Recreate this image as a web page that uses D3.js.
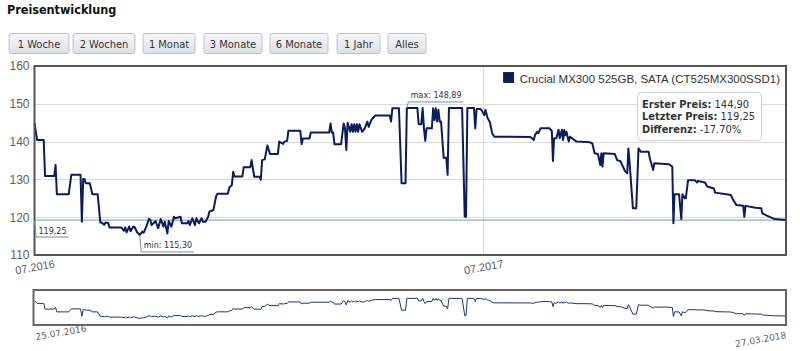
<!DOCTYPE html>
<meta charset="utf-8">
<script src="https://cdn.jsdelivr.net/npm/d3@7"></script>
<style>
body { margin: 0; background: #fff; }
svg { font-family: "DejaVu Sans", Verdana, sans-serif; }
.btn text { font-family: "DejaVu Sans Condensed", "DejaVu Sans", sans-serif; font-size: 11px; fill: #333; }
.title { font-family: "DejaVu Sans Condensed", "DejaVu Sans", sans-serif; font-weight: bold; font-size: 12.5px; fill: #111; }
.yaxis text { font-size: 12px; fill: #606060; }
.xaxis text { font-size: 11px; fill: #606060; }
.navaxis text { font-size: 9px; fill: #606060; }
.callout { font-size: 8px; fill: #333; }
.legend { font-family: "Liberation Sans", Arial, sans-serif; font-size: 11.5px; fill: #333; }
.info { font-family: "DejaVu Sans Condensed", "DejaVu Sans", sans-serif; font-size: 11px; fill: #333; }
</style>
<div id="chart"></div>
<script>
// price history, one entry per price change
const dates = [
  "2016-07-25","2016-07-27","2016-08-01","2016-08-02","2016-08-09","2016-08-10","2016-08-11","2016-08-20",
  "2016-08-22","2016-08-29","2016-08-30","2016-08-31","2016-09-01","2016-09-02","2016-09-05","2016-09-07",
  "2016-09-11","2016-09-13","2016-09-14","2016-09-16","2016-09-17","2016-09-19","2016-09-20","2016-09-29",
  "2016-10-01","2016-10-02","2016-10-03","2016-10-05","2016-10-06","2016-10-08","2016-10-09","2016-10-11",
  "2016-10-13","2016-10-15","2016-10-16","2016-10-18","2016-10-20","2016-10-21","2016-10-22","2016-10-25",
  "2016-10-27","2016-10-29","2016-10-31","2016-11-01","2016-11-03","2016-11-04","2016-11-06","2016-11-08",
  "2016-11-09","2016-11-13","2016-11-14","2016-11-18","2016-11-19","2016-11-20","2016-11-22","2016-11-24",
  "2016-11-25","2016-11-27","2016-11-29","2016-11-30","2016-12-02","2016-12-04","2016-12-05","2016-12-08",
  "2016-12-10","2016-12-11","2016-12-19","2016-12-20","2016-12-22","2016-12-23","2016-12-24","2016-12-30",
  "2016-12-31","2017-01-05","2017-01-06","2017-01-08","2017-01-12","2017-01-13","2017-01-14","2017-01-16",
  "2017-01-18","2017-01-20","2017-01-26","2017-01-27","2017-01-30","2017-01-31","2017-02-02","2017-02-03",
  "2017-02-12","2017-02-13","2017-02-14","2017-02-19","2017-02-20","2017-03-06","2017-03-07","2017-03-08",
  "2017-03-09","2017-03-10","2017-03-15","2017-03-17","2017-03-18","2017-03-19","2017-03-20","2017-03-22",
  "2017-03-23","2017-03-24","2017-03-25","2017-03-26","2017-03-27","2017-03-28","2017-03-29","2017-03-31",
  "2017-04-01","2017-04-02","2017-04-04","2017-04-05","2017-04-07","2017-04-10","2017-04-21","2017-04-22",
  "2017-04-23","2017-04-28","2017-04-30","2017-05-03","2017-05-04","2017-05-12","2017-05-13","2017-05-15",
  "2017-05-16","2017-05-17","2017-05-18","2017-05-19","2017-05-23","2017-05-24","2017-05-25","2017-05-26",
  "2017-05-27","2017-05-28","2017-05-29","2017-05-30","2017-06-01","2017-06-03","2017-06-04","2017-06-05",
  "2017-06-15","2017-06-17","2017-06-18","2017-06-19","2017-06-24","2017-06-25","2017-06-26","2017-06-29",
  "2017-06-30","2017-07-02","2017-07-03","2017-07-05","2017-07-07","2017-07-09","2017-07-11","2017-08-12",
  "2017-08-15","2017-08-16","2017-08-18","2017-08-19","2017-08-21","2017-08-29","2017-08-31","2017-09-01",
  "2017-09-02","2017-09-04","2017-09-06","2017-09-07","2017-09-09","2017-09-10","2017-09-11","2017-09-12",
  "2017-09-13","2017-09-15","2017-09-16","2017-09-22","2017-10-04","2017-10-06","2017-10-08","2017-10-11",
  "2017-10-13","2017-10-14","2017-10-15","2017-10-16","2017-10-26","2017-10-28","2017-10-31","2017-11-04",
  "2017-11-06","2017-11-07","2017-11-08","2017-11-11","2017-11-14","2017-11-16","2017-11-18","2017-11-25",
  "2017-11-26","2017-11-29","2017-11-30","2017-12-13","2017-12-16","2017-12-17","2017-12-18","2017-12-22",
  "2017-12-24","2017-12-25","2017-12-27","2017-12-28","2017-12-30","2018-01-05","2018-01-07","2018-01-08",
  "2018-01-14","2018-01-16","2018-01-22","2018-01-23","2018-02-02","2018-02-06","2018-02-08","2018-02-11",
  "2018-02-17","2018-02-18","2018-02-19","2018-02-28","2018-03-05","2018-03-06","2018-03-10","2018-03-13",
  "2018-03-17","2018-03-27"
];
const prices = [
  144.90,140.4,140.4,130.9,130.9,133.8,126.1,126.1,
  131.2,131.2,118.8,130.1,130.1,129.0,129.0,126.1,
  126.1,118.6,118.6,118.0,118.6,118.5,117.3,117.3,
  116.4,117.3,116.0,117.5,116.3,117.5,117.4,116.0,
  115.30,116.2,115.9,117.5,119.6,119.3,117.9,119.0,
  117.1,119.5,117.5,118.8,115.7,119.0,117.5,120.1,
  119.7,120.1,118.4,118.4,119.0,117.9,119.7,117.9,
  119.7,118.4,119.7,118.8,118.8,120.1,121.5,121.9,
  125.5,126.2,126.2,127.8,128.5,132.0,130.8,130.8,
  133.2,133.2,135.1,130.7,130.7,129.9,135.1,135.3,
  139.0,136.7,136.7,140.0,139.4,140.0,140.2,142.9,
  142.9,139.3,140.8,140.8,142.4,142.4,144.8,142.4,
  142.4,139.3,139.3,144.8,143.5,137.8,145.0,142.6,
  144.6,142.6,144.6,142.6,144.6,142.6,144.6,142.6,
  143.0,143.5,145.3,143.9,145.7,146.9,146.9,145.3,
  148.8,148.8,129.0,129.0,148.89,148.89,144.6,144.6,
  148.89,143.5,140.2,143.5,143.5,148.8,145.7,148.8,
  145.3,148.4,145.3,145.3,135.7,135.7,131.2,148.89,
  148.89,120.1,120.1,148.89,148.89,143.5,148.6,148.6,
  148.2,147.0,148.4,146.2,145.1,142.2,141.3,141.2,
  140.4,141.7,142.6,142.2,143.5,143.5,142.8,134.9,
  140.9,140.9,143.1,140.9,143.1,140.4,143.1,141.7,
  142.6,140.0,141.3,140.0,139.8,139.5,136.9,136.7,
  133.8,136.9,133.4,136.9,136.7,135.1,134.8,132.2,
  131.6,138.2,134.7,122.4,122.4,138.2,137.3,137.3,
  135.6,132.5,134.3,134.0,133.4,118.4,126.1,126.1,
  119.5,126.1,125.0,125.0,129.8,129.8,129.2,129.6,
  129.2,128.1,127.6,126.5,126.1,125.9,124.6,123.2,
  123.0,120.1,123.0,122.5,122.4,121.0,120.4,120.0,
  119.5,119.25
];
const yTicks = [110, 120, 130, 140, 150, 160];
const xTickDates = ["2016-07-25", "2017-07-01"];
const rangeButtons = ["1 Woche", "2 Wochen", "1 Monat", "3 Monate", "6 Monate", "1 Jahr", "Alles"];
const seriesName = "Crucial MX300 525GB, SATA (CT525MX300SSD1)";

const parse = d3.timeParse("%Y-%m-%d");
const data = dates.map((d, i) => ({ date: parse(d), price: prices[i] }));
const first = data[0], last = data[data.length - 1];
const de = d3.formatLocale({ decimal: ",", thousands: ".", grouping: [3], currency: ["", " €"] }).format(".2f");

const W = 800, H = 351;
const svg = d3.select("#chart").append("svg").attr("width", W).attr("height", H);

// gradient for the buttons
const grad = svg.append("defs").append("linearGradient").attr("id", "btngrad")
  .attr("x1", 0).attr("y1", 0).attr("x2", 0).attr("y2", 1);
grad.append("stop").attr("offset", "0%").attr("stop-color", "#f6f7f9");
grad.append("stop").attr("offset", "100%").attr("stop-color", "#dde1e6");

svg.append("text").attr("class", "title").attr("x", 7).attr("y", 14).text("Preisentwicklung");

// range selector buttons (left edge and width of each)
const btnBox = [[9, 60], [73, 62], [143, 52], [204, 58], [270, 58], [337, 43], [388, 38]];
const btn = svg.selectAll(".btn").data(rangeButtons).join("g").attr("class", "btn")
  .attr("transform", (d, i) => `translate(${btnBox[i][0]},33.5)`);
btn.append("rect").attr("width", (d, i) => btnBox[i][1]).attr("height", 20).attr("rx", 2)
  .attr("fill", "url(#btngrad)").attr("stroke", "#bfc4cc");
btn.append("text").attr("x", (d, i) => btnBox[i][1] / 2).attr("y", 14.5)
  .attr("text-anchor", "middle").text(d => d);

// main plot
const m = { left: 34.5, right: 786, top: 66, bottom: 255 };
// ordinal-like axis: the second year occupies the right 40% of the width
const x = d3.scaleTime()
  .domain([first.date, parse(xTickDates[1]), last.date])
  .range([m.left, m.left + (m.right - m.left) * 0.597, m.right]);
const y = d3.scaleLinear().domain([110, 160]).range([m.bottom, m.top]);

svg.append("g").selectAll("line").data(yTicks).join("line")
  .attr("x1", m.left).attr("x2", m.right)
  .attr("y1", d => Math.round(y(d)) + 0.5).attr("y2", d => Math.round(y(d)) + 0.5)
  .attr("stroke", "#dadada");
svg.append("line")
  .attr("x1", Math.round(x(parse(xTickDates[1]))) + 0.5).attr("x2", Math.round(x(parse(xTickDates[1]))) + 0.5)
  .attr("y1", m.top).attr("y2", m.bottom).attr("stroke", "#dadada");

// last price plot line
svg.append("line").attr("x1", m.left).attr("x2", m.right)
  .attr("y1", y(last.price)).attr("y2", y(last.price))
  .attr("stroke", "#9aa8c2").attr("stroke-width", 1.2);

const yAxis = svg.append("g").attr("class", "yaxis").attr("transform", `translate(${m.left},0)`)
  .call(d3.axisLeft(y).tickValues(yTicks).tickSize(0).tickPadding(5));
yAxis.select(".domain").remove();

const xAxis = svg.append("g").attr("class", "xaxis").attr("transform", `translate(0,${m.bottom})`)
  .call(d3.axisBottom(x).tickValues(xTickDates.map(parse)).tickSize(0).tickFormat(d3.timeFormat("%m.%Y")));
xAxis.select(".domain").remove();
xAxis.selectAll("text").attr("y", 0).attr("dy", "0.35em")
  .attr("transform", "translate(0,12) rotate(-10)");

const line = d3.line().x(d => x(d.date)).y(d => y(d.price));
svg.append("path").datum(data).attr("d", line)
  .attr("fill", "none").attr("stroke", "#0c1b5b").attr("stroke-width", 2).attr("stroke-linejoin", "round");

svg.append("rect").attr("x", m.left).attr("y", m.top)
  .attr("width", m.right - m.left).attr("height", m.bottom - m.top)
  .attr("fill", "none").attr("stroke", "#555").attr("stroke-width", 2);

// callout labels
function callout(px, py, label, up) {
  const g = svg.append("g");
  const t = g.append("text").attr("class", "callout").text(label);
  const tw = t.node().getComputedTextLength();
  const yb = up ? py - 6 : py + 17;
  g.insert("path", "text").attr("d", `M${px},${py}L${px + 1.5},${yb}L${px + tw + 6},${yb}`)
    .attr("fill", "none").attr("stroke", "#7d8aa6").attr("stroke-width", 1);
  t.attr("x", px + 4).attr("y", yb - 3.5);
}
const iMin = d3.minIndex(data, d => d.price), iMax = d3.maxIndex(data, d => d.price);
callout(x(first.date), y(last.price), de(last.price), false);
callout(x(data[iMin].date), y(data[iMin].price), "min: " + de(data[iMin].price), false);
callout(x(data[iMax].date), y(data[iMax].price), "max: " + de(data[iMax].price), true);

// legend
const lt = svg.append("text").attr("class", "legend").attr("x", 780).attr("y", 82.5)
  .attr("text-anchor", "end").text(seriesName);
const lx = 780 - lt.node().getComputedTextLength();
svg.append("rect").attr("x", lx - 16).attr("y", 72.5).attr("width", 10).attr("height", 10)
  .attr("fill", "#0c1b5b").attr("stroke", "#000a3a").attr("stroke-width", 0.8);

// info box
const diff = (last.price - first.price) / first.price * 100;
const infoRows = [
  ["Erster Preis:", de(first.price)],
  ["Letzter Preis:", de(last.price)],
  ["Differenz:", d3.format(".2f")(diff).replace("\u2212", "-") + "%"]
];
svg.append("rect").attr("x", 637.5).attr("y", 92.5).attr("width", 124).attr("height", 48).attr("rx", 4)
  .attr("fill", "#fff").attr("stroke", "#cfcfcf");
const info = svg.selectAll(".info").data(infoRows).join("text").attr("class", "info")
  .attr("x", 642).attr("y", (d, i) => 107.5 + i * 12.9);
info.append("tspan").attr("font-weight", "bold").text(d => d[0]);
info.append("tspan").text(d => " " + d[1]);

// navigator
const nav = { top: 290, bottom: 325 };
const yNav = d3.scaleLinear().domain([104, 163]).range([nav.bottom, nav.top]);
const navLine = d3.line().x(d => x(d.date)).y(d => yNav(d.price));
svg.append("path").datum(data).attr("d", navLine)
  .attr("fill", "none").attr("stroke", "#22336a").attr("stroke-width", 1);
svg.append("rect").attr("x", 33.5).attr("y", nav.top).attr("width", m.right - 33.5).attr("height", nav.bottom - nav.top)
  .attr("fill", "none").attr("stroke", "#666").attr("stroke-width", 2);

const navFmt = d3.timeFormat("%d.%m.%Y");
const navAxis = svg.append("g").attr("class", "navaxis");
navAxis.append("text").attr("transform", `translate(${x(first.date) + 1},337) rotate(-10)`)
  .attr("dy", "0.35em").text(navFmt(first.date));
navAxis.append("text").attr("transform", `translate(${x(last.date)},335) rotate(-10)`)
  .attr("dy", "0.35em").attr("text-anchor", "end").text(navFmt(last.date));
</script>
